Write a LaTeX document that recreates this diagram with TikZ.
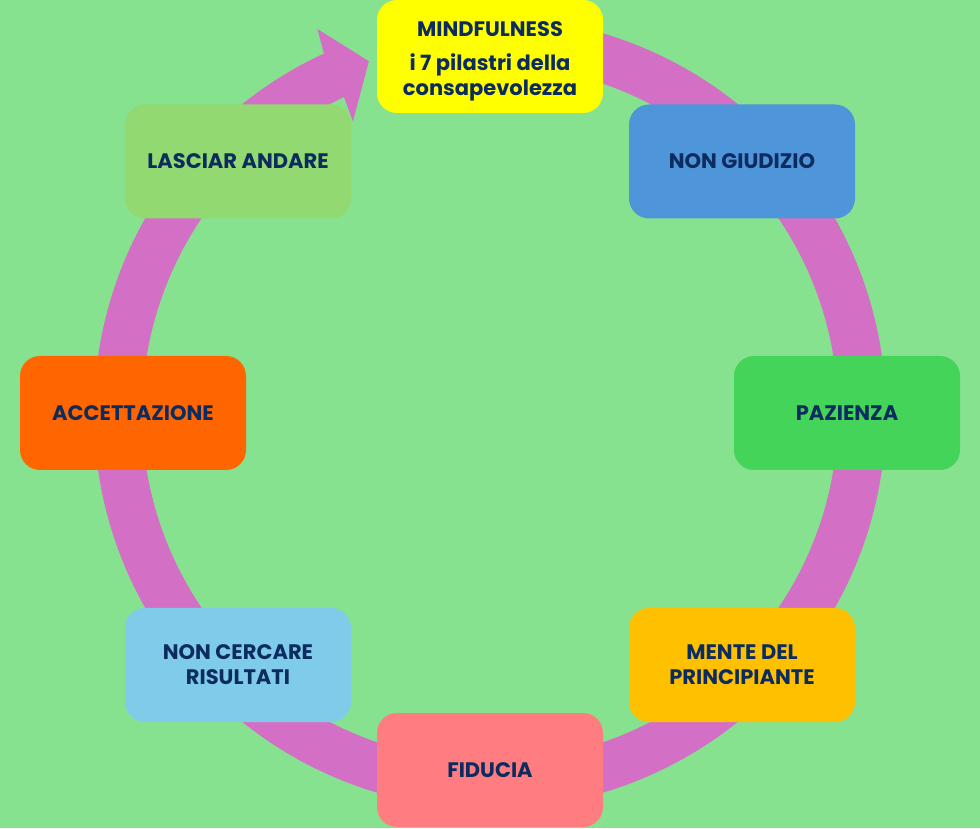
\documentclass[tikz,border=0pt]{standalone}
\usepackage{fontspec}
\setmainfont{Poppins}
\definecolor{bg}{HTML}{87E290}
\definecolor{ring}{HTML}{D46FC6}
\definecolor{navy}{HTML}{0C2B5E}
\definecolor{cyel}{HTML}{FFFF00}
\definecolor{clgreen}{HTML}{91D970}
\definecolor{cblue}{HTML}{4F95D9}
\definecolor{cgreen}{HTML}{44D45A}
\definecolor{corange}{HTML}{FFC000}
\definecolor{cpink}{HTML}{FF7C80}
\definecolor{clblue}{HTML}{7FCBEA}
\definecolor{cred}{HTML}{FF6600}
\tikzset{
  pillar/.style={rounded corners=20pt, minimum width=226pt, minimum height=114pt,
    align=center, text=navy, inner sep=0pt,
    font=\bfseries\fontsize{21}{25}\selectfont},
}
\begin{document}
\begin{tikzpicture}[x=1pt,y=1pt]
\fill[bg] (0,0) rectangle (980,828);
\useasboundingbox (0,0) rectangle (980,828);
\coordinate (c) at (490,415);
% ring
\draw[ring, line width=48pt] ([shift={(90:372)}]c) arc[start angle=90, end angle=-245.4, radius=372];
\coordinate (hb1) at ([shift={(114.2:421)}]c);
\coordinate (htip) at ([shift={(109:372)}]c);
\coordinate (hb2) at ([shift={(115.2:322)}]c);
\coordinate (hs1) at ([shift={(114.8:396)}]c);
\coordinate (hs2) at ([shift={(114.8:348)}]c);
\fill[ring] (hs1) -- (hb1) -- (htip) -- (hb2) -- (hs2) -- cycle;
% boxes
\node[pillar, fill=cyel, minimum height=113pt] (mind) at (490,771.5)
  {\raisebox{-5pt}[\height][\depth]{\begin{tabular}{@{}c@{}}MINDFULNESS\\[9pt]i 7 pilastri della\\consapevolezza\end{tabular}}};
\node[pillar, fill=clgreen] (lasc) at (238,666.5) {LASCIAR ANDARE};
\node[pillar, fill=cblue] (giud) at (742,666.5) {NON GIUDIZIO};
\node[pillar, fill=cred] (acc) at (133,415) {ACCETTAZIONE};
\node[pillar, fill=cgreen] (paz) at (847,415) {PAZIENZA};
\node[pillar, fill=clblue] (cerc) at (238,163) {NON CERCARE\\RISULTATI};
\node[pillar, fill=corange] (ment) at (742,163) {MENTE DEL\\PRINCIPIANTE};
\node[pillar, fill=cpink] (fid) at (490,58) {FIDUCIA};
\end{tikzpicture}
\end{document}
